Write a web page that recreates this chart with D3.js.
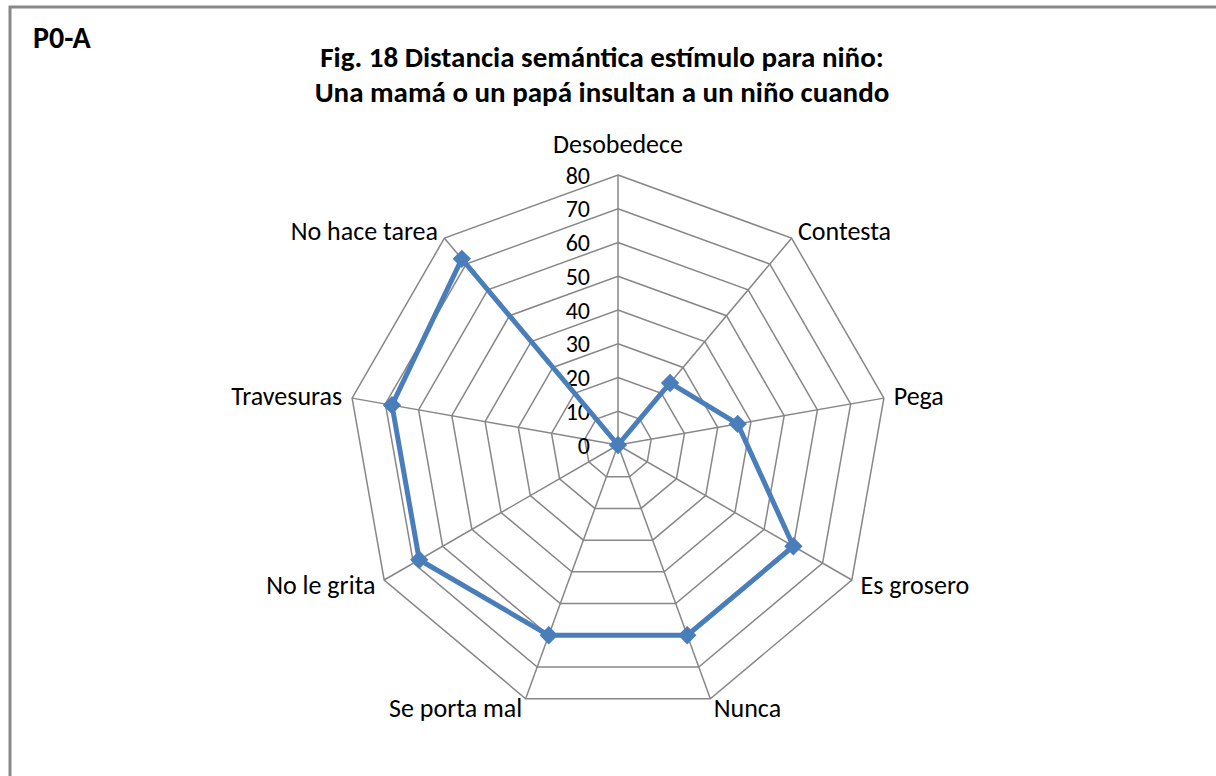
<!DOCTYPE html>
<html>
<head>
<meta charset="utf-8">
<script src="https://cdn.jsdelivr.net/npm/d3@7"></script>
<style>
  body { margin: 0; background: #fff; }
  svg text { font-family: Carlito, Calibri, Lato, sans-serif; fill: #000; }
</style>
</head>
<body>
<svg id="chart" width="1216" height="776"></svg>
<script>
const categories = ["Desobedece", "Contesta", "Pega", "Es grosero", "Nunca",
  "Se porta mal", "No le grita", "Travesuras", "No hace tarea"];
const values = [0, 24, 36, 60, 60, 60, 68, 68, 72];
const ticks = [0, 10, 20, 30, 40, 50, 60, 70, 80];

const width = 1216, height = 776;
const cx = 618, cy = 445, R = 270;
const svg = d3.select("#chart");

// outer frame
svg.append("rect")
  .attr("x", 10).attr("y", 7)
  .attr("width", 1220).attr("height", 800)
  .attr("fill", "none").attr("stroke", "#888").attr("stroke-width", 3);

svg.append("text")
  .attr("x", 33).attr("y", 48)
  .attr("font-size", 30).attr("font-weight", "bold")
  .text("P0-A");

const title = svg.append("text")
  .attr("text-anchor", "middle")
  .attr("font-size", 29).attr("font-weight", "bold");
title.append("tspan").attr("x", 602).attr("y", 67)
  .text("Fig. 18 Distancia semántica estímulo para niño:");
title.append("tspan").attr("x", 602).attr("y", 102)
  .text("Una mamá o un papá insultan a un niño cuando");

const r = d3.scaleLinear().domain([0, 80]).range([0, R]);
const angle = d3.scalePoint().domain(d3.range(categories.length + 1))
  .range([0, 2 * Math.PI]);
const a = i => angle(i);
const pt = (i, v) => [cx + r(v) * Math.sin(a(i)), cy - r(v) * Math.cos(a(i))];

const grid = svg.append("g")
  .attr("fill", "none").attr("stroke", "#878787").attr("stroke-width", 1.5);

// rings
grid.selectAll("path.ring")
  .data(ticks.slice(1))
  .join("path")
  .attr("class", "ring")
  .attr("d", t => d3.line()(categories.map((c, i) => pt(i, t))) + "Z");

// spokes
grid.selectAll("line")
  .data(categories)
  .join("line")
  .attr("x1", cx).attr("y1", cy)
  .attr("x2", (c, i) => pt(i, 80)[0])
  .attr("y2", (c, i) => pt(i, 80)[1]);

// tick labels
svg.append("g")
  .selectAll("text")
  .data(ticks)
  .join("text")
  .attr("x", cx - 28)
  .attr("y", t => cy - r(t))
  .attr("dy", "0.36em")
  .attr("text-anchor", "end")
  .attr("font-size", 24)
  .text(t => t);

// category labels
svg.append("g")
  .selectAll("text")
  .data(categories)
  .join("text")
  .attr("x", (c, i) => cx + (R + 10) * Math.sin(a(i)))
  .attr("y", (c, i) => cy - (R + 10) * Math.cos(a(i)))
  .attr("dy", (c, i) => Math.cos(a(i)) > 0.9 ? "-0.45em" : "0.35em")
  .attr("text-anchor", (c, i) => {
    const s = Math.sin(a(i));
    return Math.abs(s) < 0.01 ? "middle" : (s > 0 ? "start" : "end");
  })
  .attr("font-size", 26)
  .text(c => c);

// series
const pts = values.map((v, i) => pt(i, v));
svg.append("path")
  .attr("d", d3.line()(pts) + "Z")
  .attr("fill", "none").attr("stroke", "#4a7ebb")
  .attr("stroke-width", 5).attr("stroke-linejoin", "round");

svg.append("g")
  .selectAll("rect")
  .data(pts)
  .join("rect")
  .attr("x", -6.5).attr("y", -6.5)
  .attr("width", 13).attr("height", 13)
  .attr("fill", "#4a7ebb")
  .attr("transform", d => `translate(${d[0]},${d[1]}) rotate(45)`);
</script>
</body>
</html>
